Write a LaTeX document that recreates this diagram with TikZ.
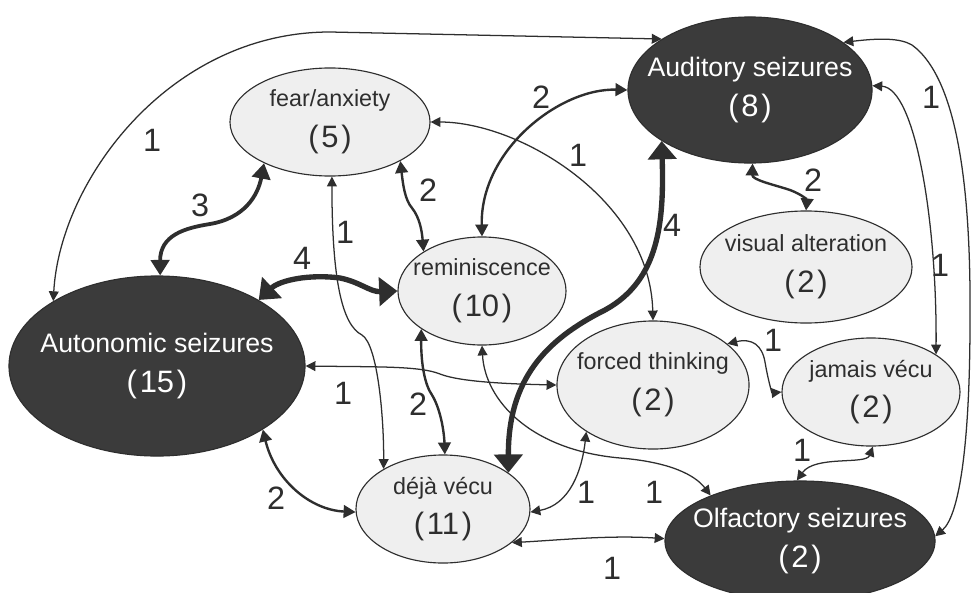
\documentclass[tikz,border=0pt]{standalone}
\usepackage{fontspec}
\setmainfont{Liberation Sans}
\usepackage{tikz}
\usetikzlibrary{shapes.geometric,arrows.meta}
\definecolor{ink}{HTML}{2E2E2E}
\definecolor{dark}{HTML}{3B3B3B}
\definecolor{pale}{HTML}{EFEFEF}
\newcommand{\cnt}[1]{\\{\fontsize{22}{29}\selectfont(\hspace{2pt}#1\hspace{2pt})}}

\begin{document}
\begin{tikzpicture}[x=0.025cm,y=-0.025cm,
  seiz/.style={ellipse,fill=dark,draw=ink,line width=0.8pt,text=white,align=center,inner xsep=-2cm,inner ysep=-0.6cm,font=\fontsize{19}{29}\selectfont},
  sym/.style={ellipse,fill=pale,draw=ink,line width=0.8pt,text=ink,align=center,inner xsep=-2cm,inner ysep=-0.6cm,font=\fontsize{16.6}{29}\selectfont},
  w1/.style={draw=ink,line width=0.9pt,>={Triangle[length=7pt,width=7pt]},<->},
  w2/.style={draw=ink,line width=1.7pt,>={Triangle[length=8.5pt,width=9pt]},<->},
  w3/.style={draw=ink,line width=2.7pt,>={Triangle[length=11pt,width=13pt]},<->},
  w4/.style={draw=ink,line width=3.8pt,>={Triangle[length=13pt,width=20pt]},<->},
  num/.style={text=ink,inner sep=0pt,font=\fontsize{23}{23}\selectfont}]
\useasboundingbox (0,0) rectangle (972,592);
\fill[white] (0,0) rectangle (972,592);
% seizures and symptoms
\node[seiz,minimum width=6.1cm,minimum height=3.65cm] (aud) at (750,90) {Auditory seizures\cnt{8}};
\node[sym,minimum width=5cm,minimum height=2.7cm] (fear) at (330,122) {fear/anxiety\cnt{5}};
\node[sym,minimum width=4.2cm,minimum height=2.7cm] (remi) at (482,291) {reminiscence\cnt{10}};
\node[sym,minimum width=5.3cm,minimum height=2.8cm] (vis) at (806,267) {visual alteration\cnt{2}};
\node[seiz,minimum width=7.4cm,minimum height=4.5cm] (auto) at (157,366) {Autonomic seizures\cnt{15}};
\node[sym,minimum width=4.8cm,minimum height=3.2cm] (forced) at (653,385) {forced thinking\cnt{2}};
\node[sym,minimum width=4.45cm,minimum height=2.7cm] (jamais) at (871,392) {jamais vécu\cnt{2}};
\node[sym,minimum width=4.35cm,minimum height=2.7cm] (deja) at (443,509) {déjà vécu\cnt{11}};
\node[seiz,minimum width=6.75cm,minimum height=3cm] (olf) at (800,541) {Olfactory seizures\cnt{2}};
% links
\draw[w1] (auto.148) .. controls (60,180) and (170,32) .. (330,32) -- (aud.150);
\draw[w3] (auto.88) .. controls (160,235) and (185,228) .. (210,224) .. controls (245,218) and (258,195) .. (fear.212);
\draw[w4] (auto.33) .. controls (280,280) and (310,274) .. (340,278) .. controls (360,282) and (370,292) .. (remi.180);
\draw[w1] (fear.272) .. controls (332,280) and (342,325) .. (362,335) .. controls (378,345) and (384,420) .. (deja.146);
\draw[w2] (fear.-29) .. controls (403,185) and (405,200) .. (412,208) .. controls (420,218) and (422,232) .. (remi.146);
\draw[w1] (fear.0) .. controls (520,122) and (650,200) .. (forced.90);
\draw[w2] (aud.180) .. controls (560,88) and (480,150) .. (remi.90);
\draw[w4] (aud.210) .. controls (664,220) and (660,280) .. (605,310) .. controls (545,340) and (508,380) .. (deja.29);
\draw[w2] (aud.272) .. controls (752,180) and (775,185) .. (790,190) .. controls (803,195) and (807,200) .. (vis.90);
\draw[w1] (aud.2) .. controls (915,88) and (937,220) .. (jamais.30);
\draw[w1] (aud.27) .. controls (880,38) and (900,38) .. (912,45) .. controls (960,80) and (971,200) .. (970,320) .. controls (970,440) and (960,515) .. (olf.2);
\draw[w1] (auto.0) .. controls (380,367) and (420,366) .. (440,374) .. controls (460,382) and (510,384) .. (forced.180);
\draw[w2] (auto.-31) .. controls (275,480) and (310,510) .. (deja.182);
\draw[w2] (remi.212) .. controls (421,365) and (425,385) .. (432,395) .. controls (440,408) and (444,430) .. (deja.88);
\draw[w1] (remi.270) .. controls (485,400) and (530,450) .. (620,458) .. controls (670,462) and (695,475) .. (olf.153);
\draw[w1] (forced.215) .. controls (582,470) and (570,505) .. (deja.-2);
\draw[w1] (forced.29) .. controls (752,338) and (762,345) .. (765,362) .. controls (768,380) and (772,393) .. (jamais.180);
\draw[w1] (jamais.272) .. controls (866,465) and (815,455) .. (olf.93);
\draw[w1] (deja.-26) .. controls (560,540) and (610,535) .. (olf.179);
% counts on the links
\foreach \x/\y/\t [count=\i] in {152/140/1,200/205/3,302/258/4,345/232/1,428/190/2,541/97/2,578/155/1,672/225/4,813/180/2,931/97/1,940/265/1,343/393/1,418/404/2,276/498/2,773/340/1,802/450/1,586/492/1,654/492/1,612/568/1}
  \node[num] (lab\i) at (\x,\y) {\t};
\end{tikzpicture}
\end{document}
